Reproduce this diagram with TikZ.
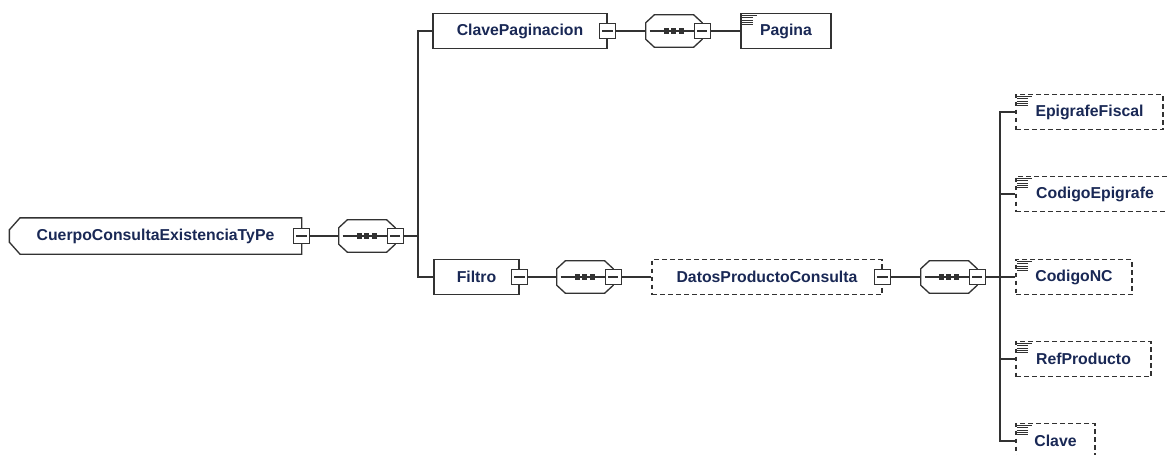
\documentclass[tikz,border=0pt]{standalone}
\usepackage{fontspec}
\setmainfont{Liberation Sans}
\usetikzlibrary{calc}
\definecolor{linec}{RGB}{50,50,50}
\definecolor{txtc}{RGB}{25,40,85}
\newcommand{\lbl}{\fontsize{11.85}{14}\selectfont\bfseries}
\tikzset{
  conn/.style={draw=linec, line width=1pt},
  elem/.style={rectangle, draw=linec, line width=1pt, fill=white, minimum height=26.25pt, inner sep=0pt, font=\lbl, text=txtc},
  optelem/.style={elem, dash pattern=on 3.5pt off 2.5pt},
  bw/.style={minimum width=#1*0.75pt},
  expbox/.style={rectangle, draw=linec, line width=0.9pt, fill=white, minimum size=11.8pt, inner sep=0pt,
    path picture={\draw[linec, line width=0.9pt] ([xshift=2pt]path picture bounding box.west) -- ([xshift=-2pt]path picture bounding box.east);}},
  seqarea/.style={rectangle, minimum width=42pt, minimum height=24pt, inner sep=0pt}
}
\newcommand{\seqshape}[1]{%
  \draw[conn, fill=white] ([xshift=6.5pt]#1.north west) -- ([xshift=-6.5pt]#1.north east) -- ([yshift=-6pt]#1.north east) -- ([yshift=6pt]#1.south east) -- ([xshift=-6.5pt]#1.south east) -- ([xshift=6.5pt]#1.south west) -- ([yshift=6pt]#1.south west) -- ([yshift=-6pt]#1.north west) -- cycle;
  \draw[conn] ([xshift=3pt]#1.west) -- (#1.east);
  \foreach \d in {15.4,21,26.6} \fill[linec] ([xshift=\d pt]#1.west) ++(-1.9pt,-1.9pt) rectangle ++(3.8pt,3.8pt);
  \node[expbox] (#1x) at (#1.east) {};
}
\newcommand{\simpleicon}[1]{%
  \foreach \k/\len in {0/15,1/11,2/11,3/11,4/11}
    \draw[linec, line width=0.75pt] ($(#1.north west)+(2,2.8+2.2*\k)$) -- ++(\len,0);
}
\begin{document}
\begin{tikzpicture}[x=0.75pt,y=-0.75pt]
\useasboundingbox (0,0) rectangle (1168,454);

% root
\node[elem, draw=none, fill=none, bw=291] (root) at (155.5,236) {CuerpoConsultaExistenciaTyPe};
\draw[conn] ([xshift=8pt]root.north west) -- (root.north east) -- (root.south east) -- ([xshift=8pt]root.south west) -- ([yshift=9pt]root.south west) -- ([yshift=-9pt]root.north west) -- cycle;
\node[expbox] (rootx) at (root.east) {};

% root sequence
\node[seqarea] (seqR) at (367,236) {};
\seqshape{seqR}

% first level
\node[elem, bw=174] (clave) at (520,31) {ClavePaginacion};
\node[expbox] (clavex) at (clave.east) {};
\node[seqarea] (seqC) at (674,31) {};
\seqshape{seqC}
\node[elem, bw=90] (pagina) at (786,31) {Pagina};
\simpleicon{pagina}

\node[elem, bw=85] (filtro) at (476.5,277) {Filtro};
\node[expbox] (filtrox) at (filtro.east) {};
\node[seqarea] (seqF) at (585,277) {};
\seqshape{seqF}
\node[optelem, bw=230] (datos) at (767,277) {DatosProductoConsulta};
\node[expbox] (datosx) at (datos.east) {};
\node[seqarea] (seqD) at (949,277) {};
\seqshape{seqD}

% children of DatosProductoConsulta
\node[optelem, bw=147] (epi) at (1089.5,112) {EpigrafeFiscal};
\simpleicon{epi}
\node[optelem, bw=158] (codepi) at (1095,194) {CodigoEpigrafe};
\simpleicon{codepi}
\node[optelem, bw=116] (codnc) at (1074,277) {CodigoNC};
\simpleicon{codnc}
\node[optelem, bw=135] (ref) at (1083.5,359) {RefProducto};
\simpleicon{ref}
\node[optelem, bw=79] (clv) at (1055.5,441) {Clave};
\simpleicon{clv}

% connectors
\coordinate (b1) at (418,236);
\coordinate (b2) at (1000,277);
\draw[conn] (rootx.east) -- (seqR.west);
\draw[conn] (seqRx.east) -- (b1);
\draw[conn] (clave.west) -| (b1) |- (filtro.west);
\draw[conn] (clavex.east) -- (seqC.west);
\draw[conn] (seqCx.east) -- (pagina.west);
\draw[conn] (filtrox.east) -- (seqF.west);
\draw[conn] (seqFx.east) -- (datos.west);
\draw[conn] (datosx.east) -- (seqD.west);
\draw[conn] (seqDx.east) -- (b2);
\draw[conn] (epi.west) -| (b2) |- (clv.west);
\draw[conn] (codepi.west) -- (codepi.west -| b2);
\draw[conn] (codnc.west) -- (codnc.west -| b2);
\draw[conn] (ref.west) -- (ref.west -| b2);
\end{tikzpicture}
\end{document}
